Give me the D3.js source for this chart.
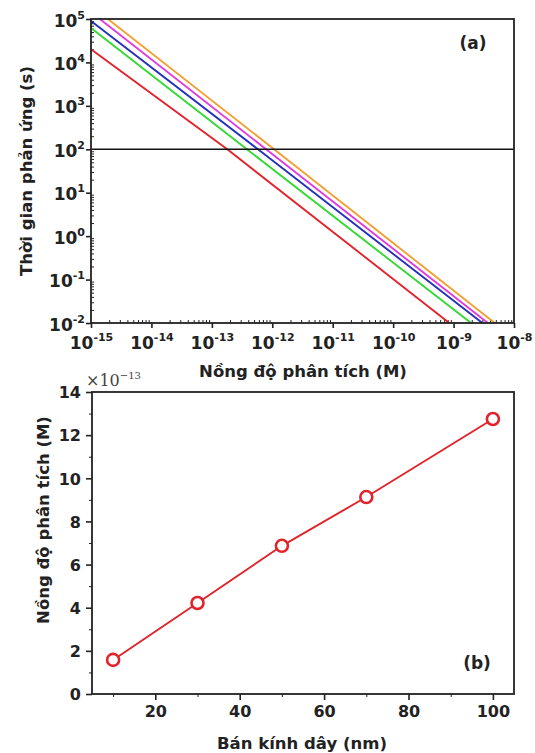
<!DOCTYPE html>
<html lang="vi">
<head>
<meta charset="utf-8">
<title>Thời gian phản ứng và nồng độ phân tích</title>
<script src="https://cdnjs.cloudflare.com/ajax/libs/d3/7.8.5/d3.min.js"></script>
<style>
  body { margin: 0; background: #fff; }
  svg text { font-family: "DejaVu Sans", "Liberation Sans", Arial, sans-serif; font-weight: bold; fill: #222; }
  .axis path, .axis line { stroke: #222; }
</style>
</head>
<body>
<div id="chart"></div>
<script>
// (a) response time vs. analyte concentration, one line per wire radius
var concRed = [1e-15, 1.8e-13, 8.5e-10],      timeRed = [2.0e4, 100, 0.01];
var concGreen = [1e-15, 3.8e-13, 1.95e-9],    timeGreen = [6.2e4, 100, 0.01];
var concBlue = [1e-15, 5.8e-13, 3.0e-9],      timeBlue = [9.0e4, 100, 0.01];
var concMagenta = [1.4e-15, 7.9e-13, 3.7e-9], timeMagenta = [1e5, 100, 0.01];
var concOrange = [1.9e-15, 1.07e-12, 4.8e-9], timeOrange = [1e5, 100, 0.01];
var lineColors = ["#e3232b", "#34d934", "#2431b8", "#df3ddf", "#f2a032"];
var thresholdTime = 100;

var concExponents = [-15, -14, -13, -12, -11, -10, -9, -8];
var timeExponents = [-2, -1, 0, 1, 2, 3, 4, 5];

// (b) detectable concentration (x 1e-13 M) vs. wire radius
var radius = [10, 30, 50, 70, 100];
var detectConc = [1.58, 4.22, 6.87, 9.13, 12.75];
var radiusTicks = [20, 40, 60, 80, 100];
var radiusMinor = [10, 30, 50, 70, 90];
var concTicksB = [0, 2, 4, 6, 8, 10, 12, 14];
var concMinorB = [1, 3, 5, 7, 9, 11, 13];

var width = 535, height = 753;
var svg = d3.select("#chart").append("svg")
    .attr("width", width).attr("height", height);

// ---------- panel (a) ----------
var a = {left: 91, right: 514, top: 19, bottom: 323};
var xA = d3.scaleLog().domain([1e-15, 1e-8]).range([a.left, a.right]);
var yA = d3.scaleLog().domain([1e-2, 1e5]).range([a.bottom, a.top]);

function minorLogTicks(lo, hi) {
    var out = [];
    for (var e = lo; e < hi; e++)
        for (var m = 2; m <= 9; m++) out.push(m * Math.pow(10, e));
    return out;
}

// minor ticks point inwards
svg.append("g").attr("class", "axis")
    .attr("transform", "translate(0," + a.bottom + ")")
    .call(d3.axisBottom(xA).tickValues(minorLogTicks(-15, -8)).tickSize(-3).tickFormat(""))
    .call(function(g){ g.select(".domain").remove(); });
svg.append("g").attr("class", "axis")
    .attr("transform", "translate(" + a.left + ",0)")
    .call(d3.axisLeft(yA).tickValues(minorLogTicks(-2, 5)).tickSize(-3).tickFormat(""))
    .call(function(g){ g.select(".domain").remove(); });

// major ticks outwards, labels as powers of ten
var xAxisA = svg.append("g").attr("class", "axis")
    .attr("transform", "translate(0," + a.bottom + ")")
    .call(d3.axisBottom(xA).tickValues(concExponents.map(function(e){ return Math.pow(10, e); }))
        .tickSize(5).tickSizeOuter(0).tickFormat(""));
xAxisA.selectAll(".tick line").attr("stroke-width", 1.6);
xAxisA.selectAll(".tick").append("text")
    .attr("y", 26).attr("text-anchor", "middle").attr("font-size", 17)
    .each(function(d, i) {
        var t = d3.select(this);
        t.append("tspan").text("10");
        t.append("tspan").attr("dy", -8).attr("font-size", 11).text(concExponents[i]);
    });

var yAxisA = svg.append("g").attr("class", "axis")
    .attr("transform", "translate(" + a.left + ",0)")
    .call(d3.axisLeft(yA).tickValues(timeExponents.map(function(e){ return Math.pow(10, e); }))
        .tickSize(5).tickSizeOuter(0).tickFormat(""));
yAxisA.selectAll(".tick line").attr("stroke-width", 1.6);
yAxisA.selectAll(".tick").append("text")
    .attr("x", -6).attr("y", 7).attr("text-anchor", "end").attr("font-size", 17)
    .each(function(d, i) {
        var t = d3.select(this);
        t.append("tspan").text("10");
        t.append("tspan").attr("dy", -8).attr("font-size", 11).text(timeExponents[i]);
    });
svg.selectAll(".axis .domain").remove();

var seriesA = [
    [concRed, timeRed], [concGreen, timeGreen], [concBlue, timeBlue],
    [concMagenta, timeMagenta], [concOrange, timeOrange]
];
var lineA = d3.line()
    .x(function(d){ return xA(d[0]); })
    .y(function(d){ return yA(d[1]); });
seriesA.forEach(function(s, i) {
    svg.append("path")
        .datum(d3.zip(s[0], s[1]))
        .attr("d", lineA)
        .attr("fill", "none")
        .attr("stroke", lineColors[i])
        .attr("stroke-width", 1.9);
});

// threshold at 100 s
svg.append("line")
    .attr("x1", a.left).attr("x2", a.right)
    .attr("y1", yA(thresholdTime)).attr("y2", yA(thresholdTime))
    .attr("stroke", "#111").attr("stroke-width", 1.6);

svg.append("rect")
    .attr("x", a.left).attr("y", a.top)
    .attr("width", a.right - a.left).attr("height", a.bottom - a.top)
    .attr("fill", "none").attr("stroke", "#222").attr("stroke-width", 1.8);

svg.append("text").attr("x", 473).attr("y", 49).attr("text-anchor", "middle")
    .attr("font-size", 17).text("(a)");
svg.append("text").attr("x", 303).attr("y", 377).attr("text-anchor", "middle")
    .attr("font-size", 16.5).text("Nồng độ phân tích (M)");
svg.append("text").attr("transform", "translate(32,171) rotate(-90)")
    .attr("text-anchor", "middle").attr("font-size", 16.5).text("Thời gian phản ứng (s)");

// ---------- panel (b) ----------
var b = {left: 92, right: 514, top: 392, bottom: 694};
var xB = d3.scaleLinear().domain([5, 105]).range([b.left, b.right]);
var yB = d3.scaleLinear().domain([0, 14]).range([b.bottom, b.top]);

svg.append("g").attr("class", "axis")
    .attr("transform", "translate(0," + b.bottom + ")")
    .call(d3.axisBottom(xB).tickValues(radiusMinor).tickSize(3).tickFormat(""))
    .call(function(g){ g.select(".domain").remove(); });
svg.append("g").attr("class", "axis")
    .attr("transform", "translate(" + b.left + ",0)")
    .call(d3.axisLeft(yB).tickValues(concMinorB).tickSize(3).tickFormat(""))
    .call(function(g){ g.select(".domain").remove(); });

var xAxisB = svg.append("g").attr("class", "axis")
    .attr("transform", "translate(0," + b.bottom + ")")
    .call(d3.axisBottom(xB).tickValues(radiusTicks).tickSize(6).tickSizeOuter(0).tickPadding(6));
var yAxisB = svg.append("g").attr("class", "axis")
    .attr("transform", "translate(" + b.left + ",0)")
    .call(d3.axisLeft(yB).tickValues(concTicksB).tickSize(6).tickSizeOuter(0).tickPadding(5));
[xAxisB, yAxisB].forEach(function(g) {
    g.select(".domain").remove();
    g.selectAll(".tick line").attr("stroke-width", 1.6);
    g.selectAll(".tick text").attr("font-size", 16).attr("font-family", null).attr("fill", "#222");
});
yAxisB.selectAll(".tick text").attr("dy", "0.36em");

svg.append("path")
    .datum(d3.zip(radius, detectConc))
    .attr("d", d3.line().x(function(d){ return xB(d[0]); }).y(function(d){ return yB(d[1]); }))
    .attr("fill", "none").attr("stroke", "#e3232b").attr("stroke-width", 1.9);
svg.selectAll("circle.pt")
    .data(d3.zip(radius, detectConc))
    .enter().append("circle")
    .attr("class", "pt")
    .attr("cx", function(d){ return xB(d[0]); })
    .attr("cy", function(d){ return yB(d[1]); })
    .attr("r", 6)
    .attr("fill", "#fff").attr("stroke", "#e3232b").attr("stroke-width", 2.6);

svg.append("rect")
    .attr("x", b.left).attr("y", b.top)
    .attr("width", b.right - b.left).attr("height", b.bottom - b.top)
    .attr("fill", "none").attr("stroke", "#222").attr("stroke-width", 1.8);

// scale factor above the y axis
var mult = svg.append("text").attr("x", 86).attr("y", 386)
    .style("font-family", "'DejaVu Serif', 'Liberation Serif', serif")
    .style("font-weight", "normal").style("fill", "#444").attr("font-size", 16);
mult.append("tspan").text("×10");
mult.append("tspan").attr("dy", -7).attr("font-size", 10).text("−13");

svg.append("text").attr("x", 477).attr("y", 669).attr("text-anchor", "middle")
    .attr("font-size", 17).text("(b)");
svg.append("text").attr("x", 302).attr("y", 749).attr("text-anchor", "middle")
    .attr("font-size", 16.5).text("Bán kính dây (nm)");
svg.append("text").attr("transform", "translate(49,520) rotate(-90)")
    .attr("text-anchor", "middle").attr("font-size", 16.5).text("Nồng độ phân tích (M)");
</script>
</body>
</html>
